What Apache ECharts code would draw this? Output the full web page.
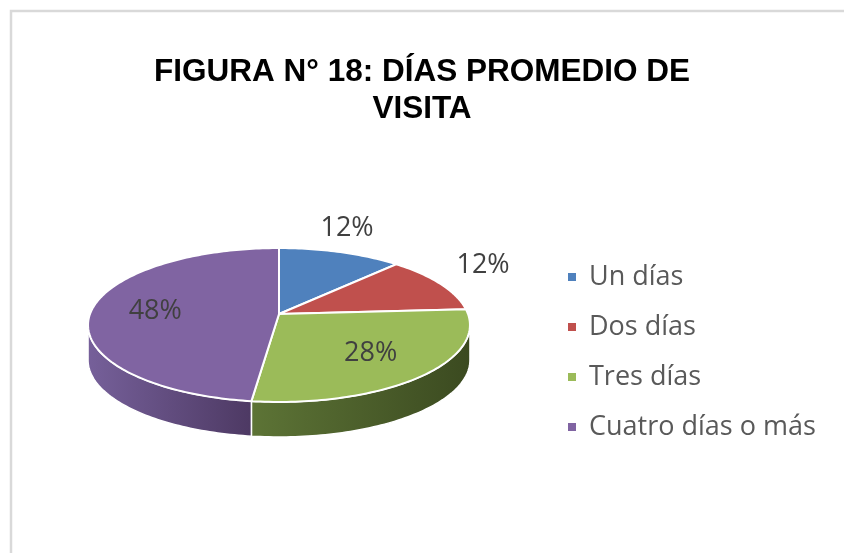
<!DOCTYPE html>
<html>
<head>
    <meta charset="utf-8">
    <title>Días promedio de visita</title>
    <script src="https://cdn.jsdelivr.net/npm/echarts@6/dist/echarts.min.js"></script>
    <style>
        html, body { margin: 0; padding: 0; background: #fff; }
    </style>
</head>
<body>
    <div id="chart" style="width:844px; height:553px"></div>

    <script>
        // datos
        const categories = ['Un días', 'Dos días', 'Tres días', 'Cuatro días o más'];
        const shares = [12, 12, 28, 48];
        const pctLabels = ['12%', '12%', '28%', '48%'];

        // colores (cara superior y lateral claro/oscuro)
        const topColors = ['#4F81BD', '#C0504D', '#9BBB59', '#8064A2'];
        const sideColors = [
            ['#3b6190', '#2a4566'],
            ['#933b39', '#682a28'],
            ['#5d7436', '#3b4a20'],
            ['#76609a', '#4d3963']
        ];

        // geometría del pastel 3D (perspectiva simple)
        const CX = 279, CY = 314;   // vértice de la cara superior
        const RX = 189, RY = 75.4;  // semiejes
        const K = 0.1429;           // factor de perspectiva
        const DEPTH = 35;           // grosor

        const total = shares.reduce((a, b) => a + b, 0);
        let acc = 0;
        const startAngles = shares.map(v => {
            const a = acc / total * Math.PI * 2;
            acc += v;
            return a;
        });

        function project(r, phi) {
            const u = r * Math.sin(phi), v = -r * Math.cos(phi);
            const d = 1 - K * v;
            return [CX + RX * u / d, CY + RY * v / d];
        }

        function arcPoints(a0, a1, dy) {
            const pts = [];
            const n = Math.max(2, Math.ceil((a1 - a0) / 0.02));
            for (let i = 0; i <= n; i++) {
                const p = project(1, a0 + (a1 - a0) * i / n);
                pts.push([p[0], p[1] + dy]);
            }
            return pts;
        }

        // parte visible del lateral: entre los extremos izquierdo y derecho
        const sideFrom = Math.acos(-K);
        const sideTo = Math.PI * 2 - sideFrom;

        function renderSide(params, api) {
            const i = params.dataIndex;
            const a0 = Math.max(startAngles[i], sideFrom);
            const a1 = Math.min(startAngles[i] + api.value(0) / total * Math.PI * 2, sideTo);
            if (a1 <= a0) return;
            const top = arcPoints(a0, a1, 0);
            const bottom = arcPoints(a0, a1, DEPTH).reverse();
            return {
                type: 'polygon',
                shape: { points: top.concat(bottom) },
                style: {
                    fill: new echarts.graphic.LinearGradient(0, 0, 1, 0, [
                        { offset: 0, color: sideColors[i][0] },
                        { offset: 1, color: sideColors[i][1] }
                    ]),
                    stroke: '#fff',
                    lineWidth: 1.5
                }
            };
        }

        function renderTop(params, api) {
            const i = params.dataIndex;
            const val = api.value(0);
            const a0 = startAngles[i];
            const a1 = a0 + val / total * Math.PI * 2;
            const pts = [[CX, CY]].concat(arcPoints(a0, a1, 0));
            const mid = (a0 + a1) / 2;
            let lx, ly, align = 'center', valign = 'middle';
            if (val / total < 0.15) {
                // etiqueta fuera, pegada al borde
                const p = project(1, mid);
                lx = p[0] + 18 * Math.sin(mid);
                ly = p[1] - 11 * Math.cos(mid);
                if (Math.sin(mid) > 0.5) align = 'left';
                else if (Math.sin(mid) < -0.5) align = 'right';
                if (Math.cos(mid) > 0.3) valign = 'bottom';
                else if (Math.cos(mid) < -0.3) valign = 'top';
            } else {
                const p = project(0.66, mid);
                lx = p[0];
                ly = p[1];
            }
            return {
                type: 'group',
                children: [
                    {
                        type: 'polygon',
                        shape: { points: pts },
                        style: { fill: topColors[i], stroke: '#fff', lineWidth: 2 }
                    },
                    {
                        type: 'text',
                        style: {
                            text: pctLabels[i],
                            x: lx, y: ly,
                            align: align, verticalAlign: valign,
                            fill: '#404040',
                            fontSize: 27,
                            fontFamily: 'Open Sans'
                        }
                    }
                ]
            };
        }

        let chart = echarts.init(document.getElementById('chart'));

        let option = {
            animation: false,
            color: topColors,
            title: {
                text: 'FIGURA N° 18: DÍAS PROMEDIO DE\nVISITA',
                left: 'center',
                top: 49,
                textStyle: {
                    fontFamily: 'Liberation Sans',
                    fontWeight: 'bold',
                    fontSize: 31.5,
                    lineHeight: 37,
                    color: '#000'
                }
            },
            legend: {
                orient: 'vertical',
                left: 568,
                top: 262,
                padding: 0,
                icon: 'rect',
                itemWidth: 8,
                itemHeight: 8,
                itemGap: 20,
                data: categories,
                selectedMode: false,
                textStyle: {
                    fontFamily: 'Open Sans',
                    fontSize: 27,
                    lineHeight: 30,
                    color: '#595959',
                    padding: [0, 0, 0, 8]
                }
            },
            graphic: [{
                type: 'rect',
                shape: { x: 11, y: 11, width: 900, height: 600 },
                style: { fill: 'none', stroke: '#d9d9d9', lineWidth: 2.5 },
                silent: true
            }],
            series: [
                {
                    // solo para la leyenda
                    type: 'pie',
                    center: [-500, -500],
                    radius: 1,
                    label: { show: false },
                    silent: true,
                    data: categories.map((c, i) => ({ name: c, value: shares[i] }))
                },
                {
                    type: 'custom',
                    coordinateSystem: 'none',
                    z: 1,
                    silent: true,
                    renderItem: renderSide,
                    data: shares
                },
                {
                    type: 'custom',
                    coordinateSystem: 'none',
                    z: 2,
                    silent: true,
                    renderItem: renderTop,
                    data: shares
                }
            ]
        };

        chart.setOption(option);
    </script>
</body>
</html>
